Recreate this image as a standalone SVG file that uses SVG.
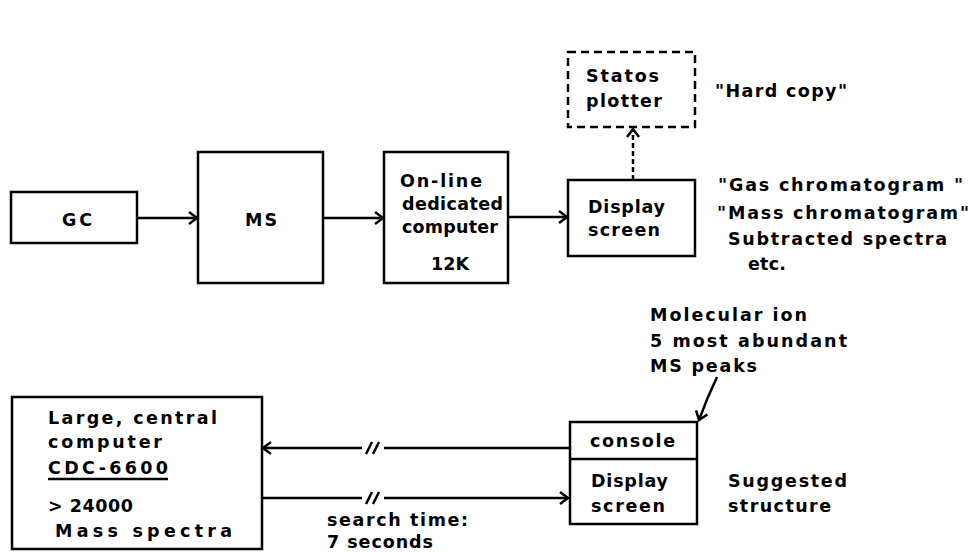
<svg xmlns="http://www.w3.org/2000/svg" width="972" height="552" viewBox="0 0 972 552">
<defs>
<marker id="arr" markerUnits="userSpaceOnUse" markerWidth="16" markerHeight="16" refX="11" refY="8" orient="auto">
<polyline points="3,2 11,8 3,14" fill="none" stroke="#000" stroke-width="2.5"/>
</marker>
<style>
.box{fill:#fff;stroke:#000;stroke-width:2.5}
.dbox{fill:#fff;stroke:#000;stroke-width:2.5;stroke-dasharray:8 5}
.t{font-family:"DejaVu Sans",sans-serif;font-weight:bold;font-size:17.5px;fill:#000}
.c{stroke:#000;stroke-width:2.5;fill:none}
</style>
</defs>
<rect width="972" height="552" fill="#fff"/>

<g id="connectors">
<line class="c" x1="137" y1="218" x2="197" y2="218" marker-end="url(#arr)"/>
<line class="c" x1="323" y1="218" x2="383" y2="218" marker-end="url(#arr)"/>
<line class="c" x1="508" y1="217" x2="567" y2="217" marker-end="url(#arr)"/>
<line class="c" x1="633" y1="180" x2="633" y2="129" stroke-dasharray="5 3" marker-end="url(#arr)"/>
<line class="c" x1="570" y1="448" x2="384" y2="448"/>
<line class="c" x1="362" y1="448" x2="263" y2="448" marker-end="url(#arr)"/>
<line class="c" x1="366" y1="454" x2="372" y2="442"/>
<line class="c" x1="373" y1="454" x2="379" y2="442"/>
<line class="c" x1="263" y1="498" x2="362" y2="498"/>
<line class="c" x1="384" y1="498" x2="568" y2="498" marker-end="url(#arr)"/>
<line class="c" x1="366" y1="504" x2="372" y2="492"/>
<line class="c" x1="373" y1="504" x2="379" y2="492"/>
<path class="c" d="M717,377 Q707,398 699,420" marker-end="url(#arr)"/>
</g>

<g id="gc">
<rect class="box" x="11" y="192" width="126" height="51"/>
<text class="t" x="62" y="226" textLength="30" lengthAdjust="spacing">GC</text>
</g>

<g id="ms">
<rect class="box" x="198" y="152" width="125" height="131"/>
<text class="t" x="245" y="226" textLength="32" lengthAdjust="spacing">MS</text>
</g>

<g id="online-computer">
<rect class="box" x="384" y="152" width="124" height="131"/>
<text class="t" x="400" y="187" textLength="82" lengthAdjust="spacing">On-line</text>
<text class="t" x="402" y="210" textLength="101" lengthAdjust="spacing">dedicated</text>
<text class="t" x="402" y="233" textLength="96" lengthAdjust="spacing">computer</text>
<text class="t" x="431" y="270" textLength="38" lengthAdjust="spacing">12K</text>
</g>

<g id="display-screen">
<rect class="box" x="568" y="180" width="127" height="76"/>
<text class="t" x="588" y="213" textLength="77" lengthAdjust="spacing">Display</text>
<text class="t" x="588" y="236" textLength="72" lengthAdjust="spacing">screen</text>
</g>

<g id="statos-plotter">
<rect class="dbox" x="568" y="52" width="127" height="75"/>
<text class="t" x="586" y="82" textLength="73" lengthAdjust="spacing">Statos</text>
<text class="t" x="586" y="107" textLength="76" lengthAdjust="spacing">plotter</text>
</g>

<g id="hard-copy-label">
<text class="t" x="715" y="97" textLength="132" lengthAdjust="spacing">"Hard copy"</text>
</g>

<g id="display-outputs-label">
<text class="t" x="718" y="191" textLength="245" lengthAdjust="spacing">"Gas chromatogram "</text>
<text class="t" x="717" y="219" textLength="252" lengthAdjust="spacing">"Mass chromatogram"</text>
<text class="t" x="728" y="245" textLength="219" lengthAdjust="spacing">Subtracted spectra</text>
<text class="t" x="748" y="270" textLength="38" lengthAdjust="spacing">etc.</text>
</g>

<g id="molecular-label">
<text class="t" x="650" y="321" textLength="157" lengthAdjust="spacing">Molecular ion</text>
<text class="t" x="650" y="347" textLength="197" lengthAdjust="spacing">5 most abundant</text>
<text class="t" x="650" y="372" textLength="107" lengthAdjust="spacing">MS peaks</text>
</g>

<g id="large-computer">
<rect class="box" x="12" y="397" width="250" height="152"/>
<text class="t" x="48" y="424" textLength="169" lengthAdjust="spacing">Large, central</text>
<text class="t" x="48" y="448" textLength="114" lengthAdjust="spacing">computer</text>
<text class="t" x="48" y="474" textLength="120" lengthAdjust="spacing">CDC-6600</text>
<line class="c" x1="48" y1="479" x2="168" y2="479" stroke-width="2"/>
<text class="t" x="48" y="512" textLength="85" lengthAdjust="spacing">&gt; 24000</text>
<text class="t" x="55" y="537" textLength="177" lengthAdjust="spacing">Mass spectra</text>
</g>

<g id="console-display">
<rect class="box" x="570" y="422" width="127" height="102"/>
<line class="c" x1="570" y1="459" x2="697" y2="459"/>
<text class="t" x="590" y="447" textLength="85" lengthAdjust="spacing">console</text>
<text class="t" x="591" y="487" textLength="77" lengthAdjust="spacing">Display</text>
<text class="t" x="591" y="512" textLength="74" lengthAdjust="spacing">screen</text>
</g>

<g id="suggested-label">
<text class="t" x="728" y="487" textLength="119" lengthAdjust="spacing">Suggested</text>
<text class="t" x="728" y="512" textLength="103" lengthAdjust="spacing">structure</text>
</g>

<g id="search-time-label">
<text class="t" x="327" y="526" textLength="141" lengthAdjust="spacing">search time:</text>
<text class="t" x="327" y="548" textLength="106" lengthAdjust="spacing">7 seconds</text>
</g>
</svg>
